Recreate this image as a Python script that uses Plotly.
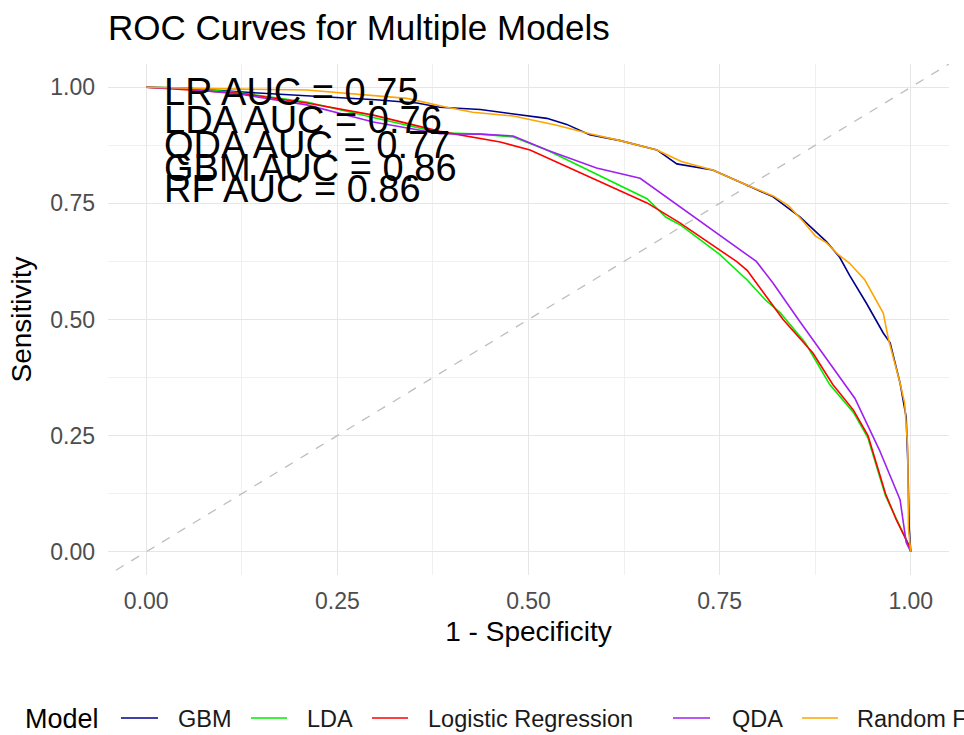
import plotly.graph_objects as go

# ---------------- data ----------------
models = ["GBM", "LDA", "Logistic Regression", "QDA", "Random Forest"]
colors = ["#00008B", "#00EE00", "#FF0000", "#A020F0", "#FFA500"]

gbm_x = [0, 0.05, 0.12, 0.2, 0.254, 0.3, 0.354, 0.384, 0.437, 0.49, 0.524, 0.55, 0.58, 0.62,
         0.668, 0.694, 0.741, 0.786, 0.82, 0.855, 0.89, 0.907, 0.92, 0.942, 0.964, 0.973,
         0.986, 0.994, 0.996, 0.998, 1.0]
gbm_y = [1.0, 0.998, 0.99, 0.982, 0.978, 0.973, 0.966, 0.957, 0.952, 0.94, 0.933, 0.92, 0.898, 0.885,
         0.865, 0.835, 0.822, 0.789, 0.764, 0.721, 0.667, 0.634, 0.595, 0.535, 0.471, 0.45,
         0.363, 0.29, 0.2, 0.05, 0.0]

lda_x = [0, 0.05, 0.123, 0.21, 0.297, 0.384, 0.437, 0.48, 0.524, 0.567, 0.61, 0.655, 0.68, 0.7,
         0.75, 0.786, 0.81, 0.829, 0.862, 0.894, 0.925, 0.944, 0.967, 0.981, 0.999, 1.0]
lda_y = [1.0, 0.998, 0.988, 0.968, 0.935, 0.902, 0.899, 0.893, 0.865, 0.83, 0.795, 0.76, 0.72, 0.702,
         0.64, 0.585, 0.542, 0.515, 0.45, 0.36, 0.3, 0.245, 0.12, 0.07, 0.009, 0.0]

lr_x = [0, 0.02, 0.123, 0.21, 0.297, 0.384, 0.463, 0.502, 0.567, 0.61, 0.655, 0.698, 0.75, 0.772,
        0.786, 0.833, 0.872, 0.898, 0.925, 0.944, 0.967, 0.981, 0.999, 1.0]
lr_y = [1.0, 0.998, 0.987, 0.966, 0.94, 0.905, 0.882, 0.865, 0.817, 0.785, 0.751, 0.708, 0.649, 0.625,
        0.606, 0.5, 0.428, 0.36, 0.305, 0.25, 0.125, 0.069, 0.009, 0.0]

qda_x = [0, 0.05, 0.123, 0.21, 0.297, 0.384, 0.437, 0.48, 0.524, 0.589, 0.646, 0.689, 0.741, 0.786,
         0.798, 0.82, 0.853, 0.894, 0.927, 0.959, 0.986, 0.994, 1.0]
qda_y = [1.0, 0.997, 0.985, 0.962, 0.925, 0.9, 0.899, 0.895, 0.865, 0.826, 0.804, 0.753, 0.692, 0.639,
         0.625, 0.578, 0.5, 0.406, 0.33, 0.219, 0.112, 0.02, 0.0]

rf_x = [0, 0.05, 0.12, 0.21, 0.28, 0.341, 0.39, 0.427, 0.48, 0.537, 0.58, 0.62, 0.668, 0.7, 0.741,
        0.786, 0.82, 0.84, 0.86, 0.875, 0.89, 0.905, 0.92, 0.94, 0.964, 0.971, 0.986, 0.992, 0.996,
        0.997, 1.0]
rf_y = [1.0, 0.998, 0.996, 0.994, 0.985, 0.976, 0.958, 0.946, 0.938, 0.918, 0.9, 0.885, 0.865, 0.84, 0.822,
        0.789, 0.766, 0.745, 0.71, 0.68, 0.665, 0.64, 0.621, 0.585, 0.514, 0.456, 0.363, 0.32, 0.226,
        0.05, 0.0]

series_x = [gbm_x, lda_x, lr_x, qda_x, rf_x]
series_y = [gbm_y, lda_y, lr_y, qda_y, rf_y]

auc_labels = ["LR AUC = 0.75", "LDA AUC = 0.76", "QDA AUC = 0.77", "GBM AUC = 0.86", "RF AUC = 0.86"]
auc_label_y = [0.989, 0.930, 0.875, 0.826, 0.782]
auc_label_x = 0.02

tick_vals = [0, 0.25, 0.5, 0.75, 1.0]
tick_text = ["0.00", "0.25", "0.50", "0.75", "1.00"]

FONT = "Liberation Sans, Arial, sans-serif"

# ---------------- layout geometry (pixels) ----------------
W, H = 964, 735
PL, PR, PT, PB = 108, 949, 64, 575   # plot area edges


def px2paper_x(px):
    return (px - PL) / (PR - PL)


def px2paper_y(py):
    return (PB - py) / (PB - PT)


fig = go.Figure()

# diagonal reference line
fig.add_trace(go.Scatter(x=[-0.1, 1.1], y=[-0.1, 1.1], mode="lines",
                         line=dict(color="#BEBEBE", width=1.3, dash="dash"),
                         showlegend=False, hoverinfo="skip"))

for name, col, xs, ys in zip(models, colors, series_x, series_y):
    fig.add_trace(go.Scatter(x=xs, y=ys, mode="lines", name=name,
                             line=dict(color=col, width=1.6), showlegend=False))

annotations = []
for lab, yy in zip(auc_labels, auc_label_y):
    annotations.append(dict(x=auc_label_x, y=yy, xref="x", yref="y", text=lab,
                            showarrow=False, xanchor="left", yanchor="middle",
                            font=dict(family=FONT, size=38, color="black")))

# manual legend (matches the single clipped row of the reference)
leg_y = px2paper_y(719)
annotations.append(dict(x=px2paper_x(23), y=leg_y, xref="paper", yref="paper", text="Model",
                        showarrow=False, xanchor="left", yanchor="middle",
                        font=dict(family=FONT, size=27, color="black")))
leg_line_px = [(121, 158), (251, 287), (372, 408), (673, 710), (802, 838)]
leg_text_px = [176, 305, 426, 730, 855]
shapes = []
for name, col, (a, b), tx in zip(models, colors, leg_line_px, leg_text_px):
    shapes.append(dict(type="line", xref="paper", yref="paper",
                       x0=px2paper_x(a), x1=px2paper_x(b), y0=px2paper_y(718), y1=px2paper_y(718),
                       line=dict(color=col, width=1.6)))
    annotations.append(dict(x=px2paper_x(tx), y=leg_y, xref="paper", yref="paper", text=name,
                            showarrow=False, xanchor="left", yanchor="middle",
                            font=dict(family=FONT, size=23.5, color="#1A1A1A")))

axis_common = dict(
    tickvals=tick_vals, ticktext=tick_text, ticks="", showline=False, zeroline=False,
    showgrid=True, gridcolor="#E6E6E6", gridwidth=1.3,
    minor=dict(dtick=0.125, tick0=0, showgrid=True, gridcolor="#F0F0F0", gridwidth=0.8),
    tickfont=dict(family=FONT, size=23, color="#4D4D4D"),
)

fig.update_layout(
    width=W, height=H,
    margin=dict(l=PL, r=W - PR, t=PT, b=H - PB, autoexpand=False),
    paper_bgcolor="white", plot_bgcolor="white",
    title=dict(text="ROC Curves for Multiple Models", x=0, xref="paper", xanchor="left",
               y=1 - 28 / H, yref="container", yanchor="middle",
               font=dict(family=FONT, size=35, color="black")),
    xaxis=dict(range=[-0.05, 1.05], ticklabelstandoff=10,
               title=dict(text="1 - Specificity", standoff=8,
                          font=dict(family=FONT, size=28, color="black")),
               **axis_common),
    yaxis=dict(range=[-0.05, 1.05], ticklabelstandoff=12,
               title=dict(text="Sensitivity", standoff=10,
                          font=dict(family=FONT, size=28, color="black")),
               **axis_common),
    annotations=annotations,
    shapes=shapes,
    showlegend=False,
)

fig.write_html("out.html")
